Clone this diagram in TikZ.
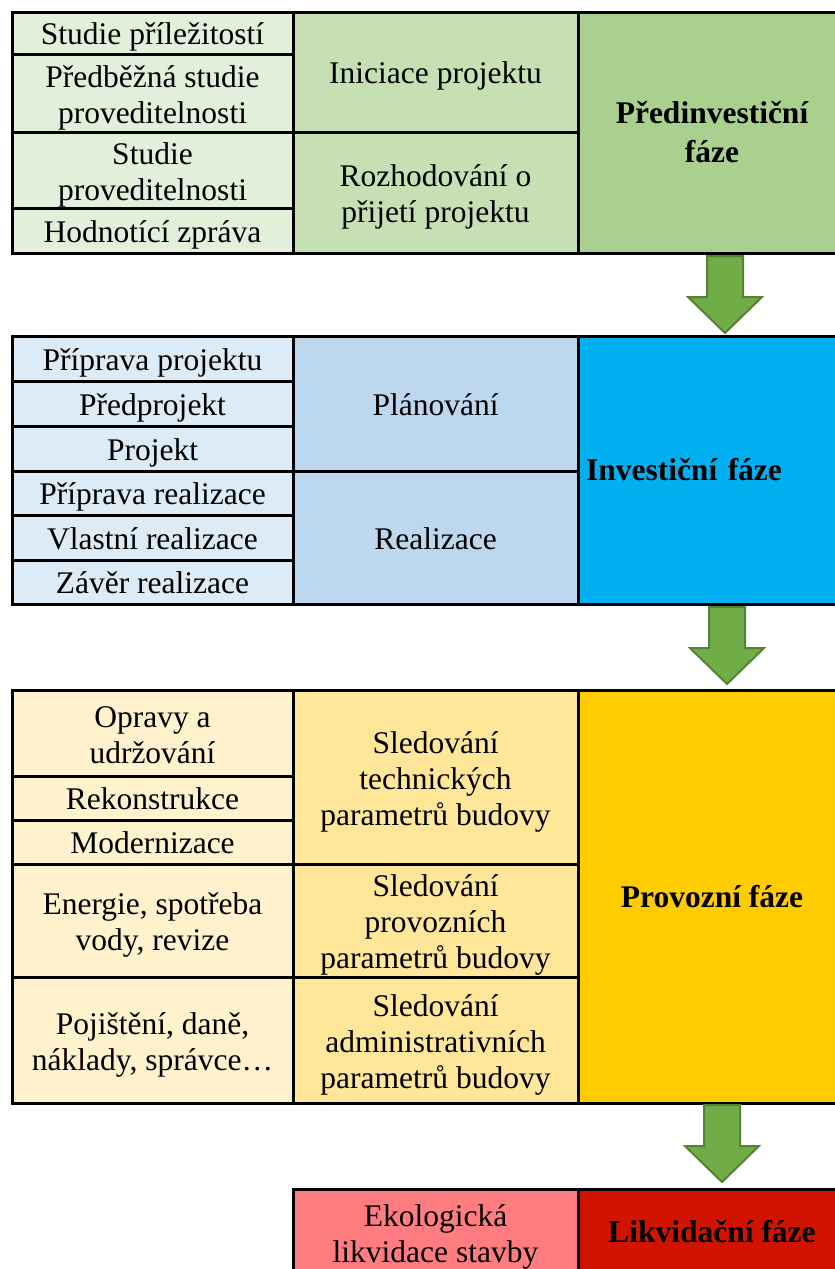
\documentclass[tikz,border=0pt]{standalone}
\usepackage{fontspec}
\setmainfont{Liberation Serif}
\usetikzlibrary{positioning,calc}
\definecolor{greenA}{HTML}{E2EFDA}
\definecolor{greenB}{HTML}{C6E0B4}
\definecolor{greenC}{HTML}{A9D08E}
\definecolor{blueA}{HTML}{DDEBF7}
\definecolor{blueB}{HTML}{BDD7EE}
\definecolor{blueC}{HTML}{00B0F0}
\definecolor{yellowA}{HTML}{FFF2CC}
\definecolor{yellowB}{HTML}{FFE699}
\definecolor{yellowC}{HTML}{FFCC00}
\definecolor{redB}{HTML}{FF7C80}
\definecolor{redC}{HTML}{D01400}
\definecolor{arrowfill}{HTML}{70AD47}
\definecolor{arrowline}{HTML}{548235}
\newcommand{\cellstrut}{\rule[-8pt]{0pt}{39pt}}
\newcommand{\toplift}{\rule{0pt}{32pt}}
\tikzset{
  cell/.style={draw, line width=3pt, rectangle, inner sep=0pt, outer sep=0pt, align=center,
    font=\fontsize{31.5}{36}\selectfont},
  colone/.style={cell, minimum width=281pt, execute at begin node=\cellstrut, execute at end node=\cellstrut},
  coltwo/.style={cell, minimum width=285pt, execute at begin node=\cellstrut, execute at end node=\cellstrut},
  multi/.style={inner ysep=-2pt},
  colthree/.style={cell, minimum width=268pt, font=\fontsize{31.5}{39}\selectfont\bfseries},
  pics/downarrow/.style={code={
    \draw[fill=arrowfill, draw=arrowline, line width=2pt, line join=miter]
      (-18,0) -- (18,0) -- (18,41) -- (37,41) -- (0,77) -- (-37,41) -- (-18,41) -- cycle;}}
}
\begin{document}
\begin{tikzpicture}[x=1pt, y=-1pt]
\useasboundingbox (0,0) rectangle (835,1269);
\clip (0,0) rectangle (835,1269);
\coordinate (arrx) at (725,0);

% predinvesticni faze
\node[colone, fill=greenA, minimum height=42pt, anchor=north west] (prilez) at (12,12) {Studie příležitostí};
\node[colone, multi, fill=greenA, minimum height=78pt, below=0pt of prilez] (predbez) {\toplift Předběžná studie\\proveditelnosti};
\node[colone, multi, fill=greenA, minimum height=76pt, below=0pt of predbez] (provedit) {\toplift Studie\\proveditelnosti};
\node[colone, fill=greenA, minimum height=45pt, below=0pt of provedit] (hodnot) {Hodnotící zpráva};
\node[coltwo, fill=greenB, minimum height=120pt, anchor=north west] (inic) at (prilez.north east) {Iniciace projektu};
\node[coltwo, multi, fill=greenB, minimum height=121pt, below=0pt of inic] (rozhod) {\toplift Rozhodování o\\přijetí projektu};
\node[colthree, fill=greenC, minimum height=241pt, anchor=north west] (predinv) at (inic.north east) {Předinvestiční\\fáze};

\pic at ($(predinv.south -| arrx)+(0,3)$) {downarrow};

% investicni faze
\node[colone, fill=blueA, minimum height=45pt, anchor=north west] (pripproj) at (12,336) {Příprava projektu};
\node[colone, fill=blueA, minimum height=45pt, below=0pt of pripproj] (predproj) {Předprojekt};
\node[colone, fill=blueA, minimum height=45pt, below=0pt of predproj] (proj) {Projekt};
\node[colone, fill=blueA, minimum height=44pt, below=0pt of proj] (pripreal) {Příprava realizace};
\node[colone, fill=blueA, minimum height=45pt, below=0pt of pripreal] (vlastreal) {Vlastní realizace};
\node[colone, fill=blueA, minimum height=44pt, below=0pt of vlastreal] (zaverreal) {Závěr realizace};
\node[coltwo, fill=blueB, minimum height=135pt, anchor=north west] (planov) at (pripproj.north east) {Plánování};
\node[coltwo, fill=blueB, minimum height=133pt, below=0pt of planov] (realiz) {Realizace};
\node[colthree, fill=blueC, minimum height=268pt, text width=252pt, align=left, anchor=north west] (invest) at (planov.north east) {Investiční fáze};

\pic at ($(invest.south -| arrx)+(2,3)$) {downarrow};

% provozni faze
\node[colone, multi, fill=yellowA, minimum height=86pt, anchor=north west] (opravy) at (12,690) {\toplift Opravy a\\udržování};
\node[colone, fill=yellowA, minimum height=44pt, below=0pt of opravy] (rekon) {Rekonstrukce};
\node[colone, fill=yellowA, minimum height=44pt, below=0pt of rekon] (modern) {Modernizace};
\node[colone, multi, fill=yellowA, minimum height=113pt, below=0pt of modern] (energie) {\toplift Energie, spotřeba\\vody, revize};
\node[colone, multi, fill=yellowA, minimum height=126pt, below=0pt of energie] (pojist) {\toplift Pojištění, daně,\\náklady, správce…};
\node[coltwo, multi, fill=yellowB, minimum height=174pt, anchor=north west] (sledtech) at (opravy.north east) {\toplift Sledování\\technických\\parametrů budovy};
\node[coltwo, multi, fill=yellowB, minimum height=113pt, below=0pt of sledtech] (sledprov) {\toplift Sledování\\provozních\\parametrů budovy};
\node[coltwo, multi, fill=yellowB, minimum height=126pt, below=0pt of sledprov] (sledadm) {\toplift Sledování\\administrativních\\parametrů budovy};
\node[colthree, fill=yellowC, minimum height=413pt, anchor=north west] (provoz) at (sledtech.north east) {Provozní fáze};

\pic at ($(provoz.south -| arrx)+(-3,2)$) {downarrow};

% likvidacni faze
\node[coltwo, multi, fill=redB, minimum height=86pt, anchor=north west] (ekolog) at (293,1189) {\toplift Ekologická\\likvidace stavby};
\node[colthree, fill=redC, minimum height=86pt, anchor=north west] (likvid) at (ekolog.north east) {Likvidační fáze};
\end{tikzpicture}
\end{document}
